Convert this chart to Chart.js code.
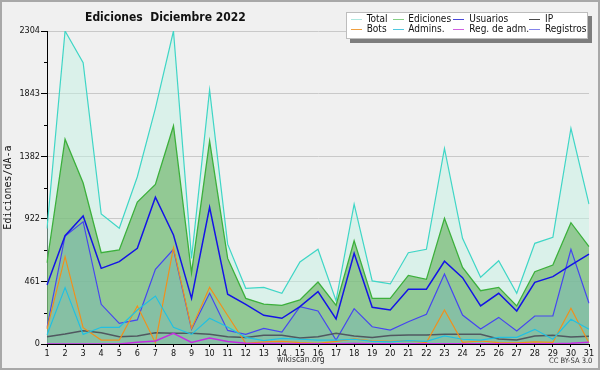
<!DOCTYPE html>
<html><head><meta charset="utf-8">
<script src="https://cdn.jsdelivr.net/npm/chart.js@4.4.0/dist/chart.umd.min.js"></script>
<style>
html,body{margin:0;padding:0;background:#f0f0f0;}
#wrap{position:relative;width:600px;height:370px;background:#f0f0f0;overflow:hidden;font-family:'DejaVu Sans Condensed','DejaVu Sans',sans-serif;font-stretch:condensed;}
#c{position:absolute;left:0;top:0;}
#frame{position:absolute;left:0;top:0;width:600px;height:370px;box-sizing:border-box;border:2px solid #a8a8a8;pointer-events:none;}
.t{position:absolute;white-space:nowrap;line-height:1;color:#111;}
#title{left:85px;top:10.5px;font-size:12px;font-weight:bold;}
#legend{position:absolute;left:346px;top:12px;width:242px;height:27px;background:#fff;border:1px solid #bdbdbd;box-sizing:border-box;box-shadow:4px 4px 0 #7d7d7d;}
.sw{position:absolute;height:1px;width:11px;}
.lg{font-size:10px;}
#site{left:277px;top:355px;font-size:8.5px;color:#333;}
#lic{left:549px;top:357px;font-size:7.5px;color:#333;}
</style>
</head><body>
<div id="wrap">
<canvas id="c" width="600" height="370"></canvas>
<div class="t" id="title">Ediciones&nbsp; Diciembre 2022</div>
<div id="legend"></div>
<div class="t" id="site">wikiscan.org</div>
<div class="t" id="lic">CC BY-SA 3.0</div>
<div id="frame"></div>
</div>
<script>
// ---- data ----
const days = ['1','2','3','4','5','6','7','8','9','10','11','12','13','14','15','16','17','18','19','20','21','22','23','24','25','26','27','28','29','30','31'];
const total     = [850, 2304, 2071, 957, 852, 1231, 1735, 2304, 630, 1870, 735, 410, 417, 373, 604, 697, 319, 1030, 464, 442, 672, 697, 1440, 778, 491, 613, 373, 741, 785, 1588, 1030];
const ediciones = [598, 1508, 1185, 672, 692, 1045, 1175, 1605, 523, 1494, 630, 336, 294, 285, 324, 456, 285, 760, 336, 336, 505, 476, 925, 564, 392, 417, 280, 532, 581, 893, 716];
const usuarios  = [434, 797, 942, 557, 606, 704, 1080, 802, 336, 1006, 366, 292, 211, 189, 275, 385, 184, 668, 270, 250, 403, 403, 609, 488, 280, 373, 243, 454, 496, 581, 662];
const ip        = [54, 74, 98, 83, 54, 59, 83, 79, 79, 71, 54, 47, 64, 64, 44, 54, 79, 59, 47, 62, 66, 66, 71, 71, 71, 37, 29, 59, 64, 52, 57];
const bots      = [110, 643, 120, 29, 29, 280, 10, 709, 115, 417, 210, 5, 15, 20, 10, 5, 20, 37, 24, 20, 25, 10, 250, 12, 22, 10, 8, 15, 12, 263, 8];
const admins    = [66, 415, 71, 123, 123, 250, 353, 123, 71, 189, 125, 49, 25, 42, 35, 29, 29, 35, 20, 15, 25, 20, 59, 35, 29, 49, 49, 108, 35, 182, 108];
const regAdm    = [0, 0, 0, 0, 0, 12, 22, 79, 12, 44, 18, 5, 3, 3, 2, 2, 2, 3, 2, 2, 2, 2, 2, 2, 2, 2, 2, 2, 2, 5, 12];
const registros = [120, 795, 900, 292, 152, 177, 550, 697, 108, 373, 100, 71, 115, 88, 275, 243, 29, 260, 127, 103, 164, 219, 515, 213, 110, 196, 96, 206, 206, 697, 300];
const yMajor = [0, 460.8, 921.6, 1382.4, 1843.2, 2304];
const yTickLabels = ['0', '461', '922', '1382', '1843', '2304'];
const yMinor = [230.4, 691.2, 1152, 1612.8, 2073.6];
const legendLabels = ['Total','Ediciones','Usuarios','IP','Bots','Admins.','Reg. de adm.','Registros'];

// ---- legend (HTML) ----
const legendColors = ['#aee8e0','#86d086','#4848d8','#4a4a4a','#f0a040','#50c8e0','#d060e0','#8484ea'];
const colX = [366.7, 408.3, 469.3, 545];
const swX = [350.7, 392.7, 453.3, 529.3];
const wrap = document.getElementById('wrap');
legendLabels.forEach((lab, i) => {
  const col = i % 4, row = Math.floor(i / 4);
  const sw = document.createElement('div');
  sw.className = 'sw';
  sw.style.left = swX[col] + 'px';
  sw.style.top = (19 + row * 10) + 'px';
  sw.style.background = legendColors[i];
  wrap.appendChild(sw);
  const t = document.createElement('div');
  t.className = 't lg';
  t.textContent = lab;
  t.style.left = colX[col] + 'px';
  t.style.top = (14.2 + row * 10) + 'px';
  wrap.appendChild(t);
});
wrap.appendChild(document.getElementById('frame'));

const FF = "'DejaVu Sans Condensed', 'DejaVu Sans', sans-serif";
const minorTicks = {
  id: 'minorTicks',
  afterDraw(chart) {
    const s = chart.scales.y, c = chart.ctx;
    c.save(); c.strokeStyle = '#000'; c.lineWidth = 1; c.beginPath();
    yMinor.forEach(v => { const y = Math.round(s.getPixelForValue(v)) + 0.5; c.moveTo(s.right - 3, y); c.lineTo(s.right, y); });
    c.stroke(); c.restore();
  }
};

new Chart(document.getElementById('c'), {
  type: 'line',
  data: {
    labels: days,
    datasets: [
      {label: legendLabels[0], data: total, borderColor: '#3fd6c6', backgroundColor: 'rgba(196,241,228,0.5)', fill: 'origin', order: 8, borderWidth: 1.2},
      {label: legendLabels[1], data: ediciones, borderColor: '#3cb03c', backgroundColor: 'rgba(99,175,91,0.6)', fill: 'origin', order: 7, borderWidth: 1.3},
      {label: legendLabels[2], data: usuarios, borderColor: '#1414e6', fill: false, order: 5, borderWidth: 1.5},
      {label: legendLabels[3], data: ip, borderColor: '#505860', fill: false, order: 4, borderWidth: 1.5},
      {label: legendLabels[4], data: bots, borderColor: '#f0901c', fill: false, order: 3, borderWidth: 1.2},
      {label: legendLabels[5], data: admins, borderColor: '#22c0e2', fill: false, order: 2, borderWidth: 1.2},
      {label: legendLabels[6], data: regAdm, borderColor: '#c42ee0', fill: false, order: 1, borderWidth: 1.5},
      {label: legendLabels[7], data: registros, borderColor: '#4646f0', backgroundColor: 'rgba(122,183,180,0.5)', fill: 'origin', order: 6, borderWidth: 1.2}
    ]
  },
  options: {
    animation: false, responsive: false, devicePixelRatio: 1,
    layout: {padding: {left: 0, right: 11, top: 31, bottom: 0}},
    elements: {point: {radius: 0}, line: {tension: 0}},
    plugins: {legend: {display: false}, tooltip: {enabled: false}, filler: {drawTime: 'beforeDatasetsDraw'}},
    scales: {
      x: {
        type: 'category', offset: false,
        grid: {drawOnChartArea: false, drawTicks: true, tickLength: 3, tickColor: '#000'},
        border: {color: '#000', width: 1},
        ticks: {font: {size: 9, family: FF}, color: '#111', padding: 1, maxRotation: 0, autoSkip: false},
        afterFit(s) { s.height = 26; }
      },
      y: {
        min: 0, max: 2304,
        afterBuildTicks(s) { s.ticks = yMajor.map(v => ({value: v})); },
        ticks: {callback: (v, i) => yTickLabels[i], font: {size: 9, family: FF}, color: '#111', padding: 1},
        grid: {color: '#c9c9c9', tickLength: 6, tickColor: '#000', lineWidth: 1},
        border: {color: '#000', width: 1},
        title: {display: true, text: 'Ediciones/dÃ-a', font: {family: "'DejaVu Sans Mono', monospace", size: 10}, color: '#111', padding: {top: 2, bottom: 0}},
        afterFit(s) { s.width = 47; }
      }
    }
  },
  plugins: [minorTicks]
});
</script>
</body></html>
